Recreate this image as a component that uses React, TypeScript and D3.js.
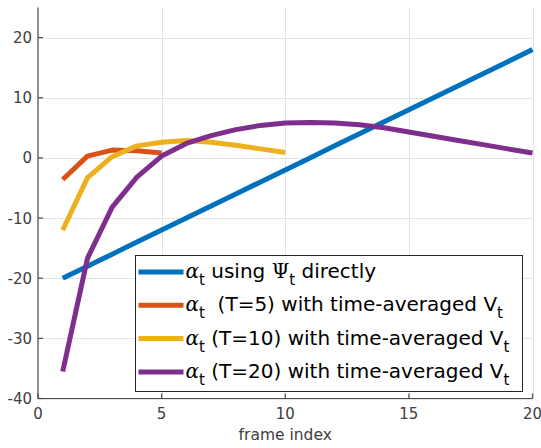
import * as d3 from "d3";

const frames = d3.range(1, 21);
const direct = [-20, -18, -16, -14, -12, -10, -8, -6, -4, -2, 0, 2, 4, 6, 8, 10, 12, 14, 16, 18];
const avgT5 = [-3.6, 0.3, 1.3, 1.2, 0.8];
const avgT10 = [-12, -3.3, 0.2, 2.0, 2.6, 2.9, 2.6, 2.1, 1.5, 0.9];
const avgT20 = [-35.5, -16.7, -8.2, -3.2, 0.3, 2.4, 3.7, 4.7, 5.4, 5.8, 5.9, 5.8, 5.5, 5.0, 4.3, 3.6, 2.9, 2.2, 1.5, 0.8];
const xTicks = [0, 5, 10, 15, 20];
const yTicks = [-40, -30, -20, -10, 0, 10, 20];

const series = [
  { values: direct, color: "#0072bd", label: "using", sym: "Ψ", rest: " directly" },
  { values: avgT5, color: "#d95319", label: "\u00a0\u00a0(T=5) with time-averaged V" },
  { values: avgT10, color: "#edb120", label: " (T=10) with time-averaged V" },
  { values: avgT20, color: "#7e2f8e", label: " (T=20) with time-averaged V" },
];

export default function App() {
  const width = 541;
  const height = 448;
  const left = 38;
  const right = 532.5;
  const top = 7.5;
  const bottom = 398.5;

  const x = d3.scaleLinear().domain([0, 20]).range([left, right]);
  const y = d3.scaleLinear().domain([-40, 25]).range([bottom, top]);

  const line = d3
    .line<number>()
    .x((_, i) => x(frames[i]))
    .y((d) => y(d));

  const axisColor = "#4d4d4d";
  const font = "DejaVu Sans, sans-serif";

  // legend box
  const lgX = 135.5;
  const lgY = 255.5;
  const lgW = 387;
  const lgH = 136;

  return (
    <svg
      width={width}
      height={height}
      style={{ position: "absolute", left: 0, top: 0, background: "#fff" }}
    >
      {/* grid */}
      <g stroke="#e3e3e3" strokeWidth={1}>
        {xTicks.map((t) => (
          <line key={"gx" + t} x1={Math.round(x(t)) + 0.5} x2={Math.round(x(t)) + 0.5} y1={top} y2={bottom} />
        ))}
        {yTicks.map((t) => (
          <line key={"gy" + t} x1={left} x2={right} y1={Math.round(y(t)) + 0.5} y2={Math.round(y(t)) + 0.5} />
        ))}
      </g>

      {/* series */}
      {series.map((s, i) => (
        <path
          key={i}
          d={line(s.values) || ""}
          fill="none"
          stroke={s.color}
          strokeWidth={5}
          strokeLinejoin="round"
        />
      ))}

      {/* axes */}
      <g stroke={axisColor} strokeWidth={1.2}>
        <line x1={left} x2={left} y1={top} y2={bottom} />
        <line x1={left} x2={right} y1={bottom} y2={bottom} />
        {xTicks.map((t) => (
          <line key={"tx" + t} x1={x(t)} x2={x(t)} y1={bottom} y2={bottom - 5} />
        ))}
        {yTicks.map((t) => (
          <line key={"ty" + t} x1={left} x2={left + 5} y1={y(t)} y2={y(t)} />
        ))}
      </g>
      <g fill="#404040" fontFamily={font} fontSize={15}>
        {xTicks.map((t) => (
          <text key={"lx" + t} x={x(t)} y={bottom + 20.5} textAnchor="middle">
            {t}
          </text>
        ))}
        {yTicks.map((t) => (
          <text key={"ly" + t} x={left - 6} y={y(t) + 5.5} textAnchor="end">
            {t}
          </text>
        ))}
        <text x={(left + right) / 2} y={440} textAnchor="middle" fontSize={15.5}>
          frame index
        </text>
      </g>

      {/* legend */}
      <rect x={lgX} y={lgY} width={lgW} height={lgH} fill="#fff" stroke="#262626" strokeWidth={1} />
      {series.map((s, i) => {
        const cy = lgY + 16.5 + i * 33.3;
        const base = cy + 6;
        return (
          <g key={"lg" + i}>
            <line x1={lgX + 3} x2={lgX + 48} y1={cy} y2={cy} stroke={s.color} strokeWidth={5} />
            <text
              x={lgX + 50}
              y={base}
              fontFamily={font}
              fontSize={20}
              fill="#000"
              style={{ whiteSpace: "pre" }}
            >
              <tspan fontFamily="DejaVu Serif, serif" fontStyle="italic">
                α
              </tspan>
              <tspan fontSize={15} dy={7}>
                t
              </tspan>
              <tspan dy={-7}>{s.sym ? " " + s.label : s.label}</tspan>
              {s.sym ? (
                <>
                  <tspan fontFamily="DejaVu Serif, serif">{" " + s.sym}</tspan>
                  <tspan fontSize={15} dy={7}>
                    t
                  </tspan>
                  <tspan dy={-7}>{s.rest}</tspan>
                </>
              ) : (
                <tspan fontSize={15} dy={7}>
                  t
                </tspan>
              )}
            </text>
          </g>
        );
      })}
    </svg>
  );
}
